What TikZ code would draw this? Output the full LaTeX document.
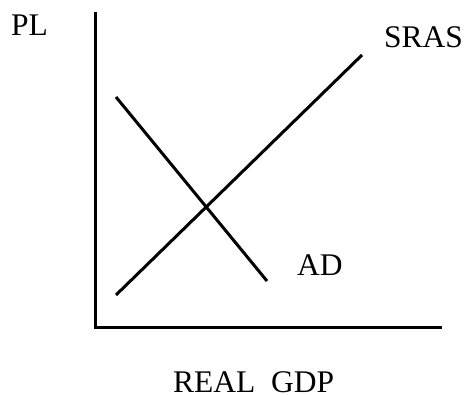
\documentclass[tikz,border=0pt]{standalone}
\usepackage{fontspec}
\setmainfont{Liberation Serif}
\begin{document}
\begin{tikzpicture}[x=1pt,y=-1pt,
  lbl/.style={anchor=base west,inner sep=0pt,font=\fontsize{31.5}{31.5}\selectfont},
  curve/.style={line width=3pt},
  axis/.style={line width=3pt}]
\useasboundingbox (0,0) rectangle (465,395);
\coordinate (ytop) at (95,12);
\coordinate (orig) at (95,327);
\coordinate (xend) at (442,327);
\coordinate (s1) at (116,295);
\coordinate (s2) at (362,55);
\coordinate (d1) at (116,97);
\coordinate (d2) at (267,281);
\draw[axis] (ytop) -- (orig) -- (xend);
\draw[curve] (s1) -- (s2);
\draw[curve] (d1) -- (d2);
\node[lbl] (pl) at (11,36) {PL};
\node[lbl] (sras) at (384,48) {SRAS};
\node[lbl] (ad) at (297,275) {AD};
\node[lbl] (gdp) at (173,392) {REAL\ \ GDP};
\end{tikzpicture}
\end{document}
